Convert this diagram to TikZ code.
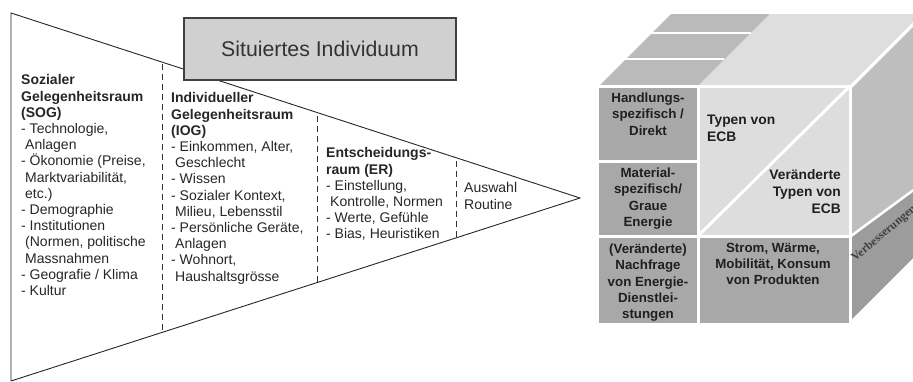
\documentclass[tikz,border=0pt]{standalone}
\usepackage{fontspec}
\setmainfont{Liberation Sans}
\newfontfamily\serifv{Liberation Serif}
\definecolor{cdark}{gray}{0.66}
\definecolor{clight}{gray}{0.865}
\definecolor{ctopdark}{gray}{0.73}
\definecolor{ctoplight}{gray}{0.87}
\definecolor{crightup}{gray}{0.745}
\definecolor{crightlow}{gray}{0.61}
\definecolor{boxfill}{gray}{0.815}
\begin{document}
\begin{tikzpicture}[x=1pt,y=-1pt,
  txt/.style={inner sep=0pt, align=left, anchor=north west, font=\fontsize{14}{16.2}\selectfont, text=black!85},
  cubetxt/.style={inner sep=0pt, font=\bfseries\fontsize{13.3}{16.2}\selectfont, text=black!88},
  edgeline/.style={draw=black!85, line width=0.9pt},
  sepline/.style={draw=black!80, line width=0.9pt, dash pattern=on 6pt off 4pt},
  wl/.style={draw=white, line width=3pt}]
\useasboundingbox (0,0) rectangle (913,381);
\newcommand{\ind}{\hspace*{4pt}}
% ---------- triangle ----------
\coordinate (tl) at (11,13);
\coordinate (bl) at (11,381);
\coordinate (apex) at (580,198);
\draw[edgeline] (bl) -- (tl) -- (apex) -- (bl);
% dashed separators
\coordinate (s1t) at (162,64);
\coordinate (s1b) at (162,332);
\coordinate (s2t) at (317,116);
\coordinate (s2b) at (317,282);
\coordinate (s3t) at (456,161);
\coordinate (s3b) at (456,237);
\draw[sepline] (s1t) -- (s1b);
\draw[sepline] (s2t) -- (s2b);
\draw[sepline] (s3t) -- (s3b);
% box
\node[draw=black!75, line width=1.2pt, fill=boxfill, minimum width=272pt, minimum height=62pt, inner sep=0pt,
      font=\fontsize{21.3}{24}\selectfont, text=black!80] (situ) at (320,49) {Situiertes Individuum};
% column texts
\node[txt] (sog) at (21,74.5) {\textbf{Sozialer}\\
\textbf{Gelegenheitsraum}\\
\textbf{(SOG)}\\
- Technologie,\\
\ind Anlagen\\
- Ökonomie (Preise,\\
\ind Marktvariabilität,\\
\ind etc.)\\
- Demographie\\
- Institutionen\\
\ind (Normen, politische\\
\ind Massnahmen\\
- Geografie / Klima\\
- Kultur};
\node[txt] (iog) at (171,92.5) {\textbf{Individueller}\\
\textbf{Gelegenheitsraum}\\
\textbf{(IOG)}\\
- Einkommen, Alter,\\
\ind Geschlecht\\
- Wissen\\
- Sozialer Kontext,\\
\ind Milieu, Lebensstil\\
- Persönliche Geräte,\\
\ind Anlagen\\
- Wohnort,\\
\ind Haushaltsgrösse};
\node[txt] (er) at (326,147.5) {\textbf{Entscheidungs-}\\
\textbf{raum (ER)}\\
- Einstellung,\\
\ind Kontrolle, Normen\\
- Werte, Gefühle\\
- Bias, Heuristiken};
\node[txt] (ausw) at (464,182.5) {Auswahl\\ Routine};
% ---------- cube ----------
\begin{scope}
\clip (0,0) rectangle (913,381);
% top face
\fill[ctopdark] (599,86) -- (698,86) -- (770,14) -- (671,14) -- cycle;
\fill[ctoplight] (698,86) -- (849,86) -- (921,14) -- (770,14) -- cycle;
\draw[white, line width=2.5pt] (650.5,33) -- (751,33);
\draw[white, line width=2.5pt] (624,59) -- (724,59);
% right face
\fill[crightup] (851,87) -- (923,15) -- (923,183) -- (851,236) -- cycle;
\fill[crightlow] (851,236) -- (923,183) -- (923,248) -- (851,320) -- cycle;
% front face
\fill[cdark] (599,87) rectangle (698,161);
\fill[cdark] (599,161) rectangle (698,236);
\fill[cdark] (599,236) rectangle (698,323);
\fill[clight] (698,87) rectangle (849,236);
\fill[cdark] (698,236) rectangle (849,323);
% white gaps
\draw[wl] (597,86) -- (851,86);
\draw[wl] (698,86) -- (698,324);
\draw[wl] (599,161) -- (698,161);
\draw[wl] (599,236) -- (850,236);
\draw[wl] (698,236) -- (849,87);
\draw[wl] (850,86) -- (850,324);
\draw[white, line width=2.5pt] (851,236) -- (923,183);
\draw[white, line width=2.5pt] (851,87) -- (923,15);
% right-face label (scope with upward y so that rotation is ordinary)
\begin{scope}[y=1pt]
\node[inner sep=0pt, anchor=base west, rotate=40, font=\serifv\bfseries\fontsize{11.8}{13}\selectfont, text=black!75] (verb) at (855,-262) {Verbesserungen};
\end{scope}
\end{scope}
% cube texts
\node[cubetxt, align=center, anchor=north] (hand) at (648,92.9) {Handlungs-\\ spezifisch /\\ Direkt};
\node[cubetxt, align=center, anchor=north] (mat) at (648,167.9) {Material-\\ spezifisch/\\ Graue\\ Energie};
\node[cubetxt, align=center, anchor=north] (nach) at (648,243.9) {(Veränderte)\\ Nachfrage\\ von Energie-\\ Dienstlei-\\ stungen};
\node[cubetxt, align=center, anchor=north] (strom) at (773,242.9) {Strom, Wärme,\\ Mobilität, Konsum\\ von Produkten};
\node[cubetxt, align=left, anchor=north west, font=\bfseries\fontsize{13.8}{17}\selectfont] (typen) at (707,114.5) {Typen von\\ ECB};
\node[cubetxt, align=right, anchor=north east, font=\bfseries\fontsize{13.8}{17}\selectfont] (vtypen) at (841,169.5) {Veränderte\\ Typen von\\ ECB};
\end{tikzpicture}
\end{document}
